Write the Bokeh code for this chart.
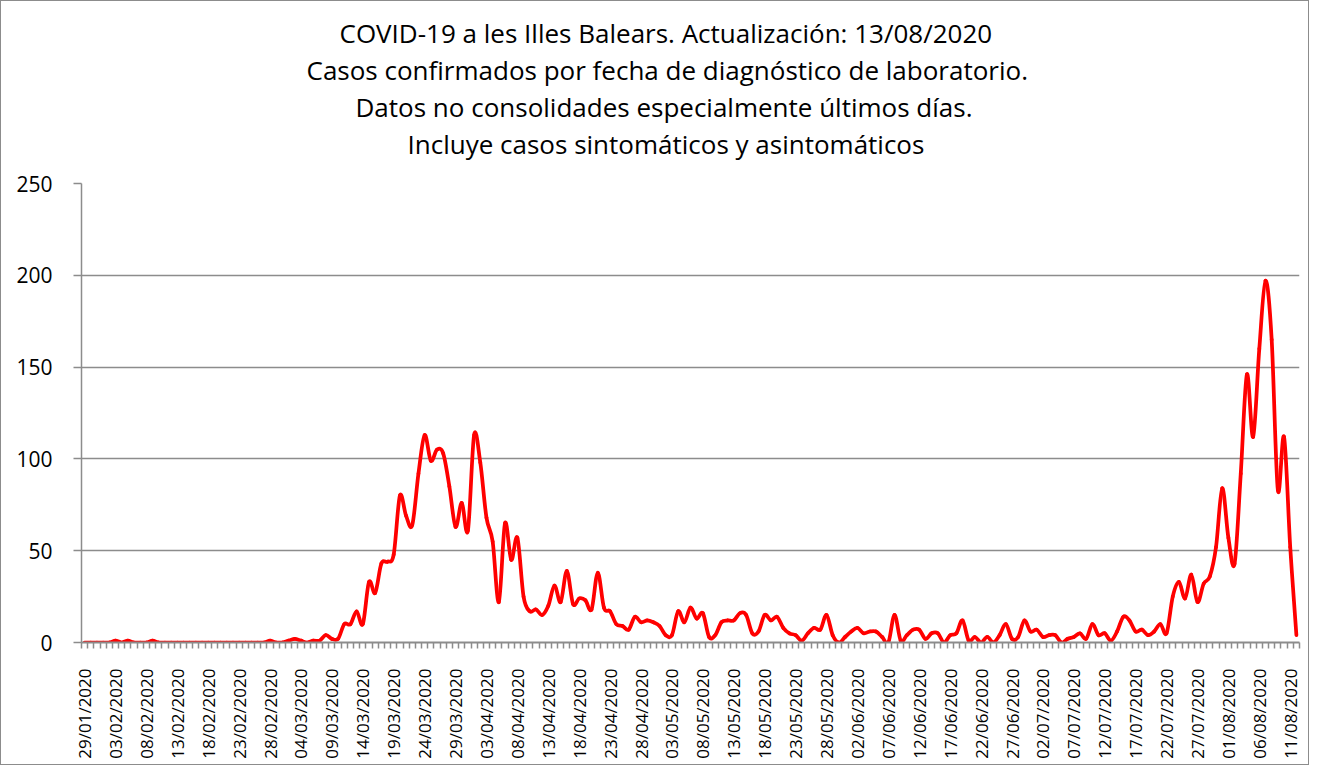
import numpy as np
import pandas as pd
from math import pi
from bokeh.plotting import figure
from bokeh.models import Range1d, FixedTicker, Title, ColumnDataSource
from bokeh.embed import file_html
from bokeh.resources import INLINE

# ---------------- data ----------------
start_date = "2020-01-29"
cases = [
    0, 0, 0, 0, 0, 1, 0, 1, 0, 0,
    0, 1, 0, 0, 0, 0, 0, 0, 0, 0,
    0, 0, 0, 0, 0, 0, 0, 0, 0, 0,
    1, 0, 0, 1, 2, 1, 0, 1, 1, 4,
    2, 2, 10, 10, 17, 10, 33, 27, 43, 44,
    48, 80, 69, 64, 92, 113, 99, 105, 103, 85,
    63, 76, 61, 113, 98, 68, 55, 22, 65, 45,
    57, 25, 17, 18, 15, 20, 31, 22, 39, 21,
    24, 23, 18, 38, 19, 17, 10, 9, 7, 14,
    11, 12, 11, 9, 4, 4, 17, 11, 19, 13,
    16, 3, 4, 11, 12, 12, 16, 15, 5, 6,
    15, 12, 14, 8, 5, 4, 1, 5, 8, 7,
    15, 4, 0, 3, 6, 8, 5, 6, 6, 3,
    0, 15, 1, 4, 7, 7, 2, 5, 5, 0,
    4, 5, 12, 1, 3, 0, 3, 0, 4, 10,
    2, 3, 12, 6, 7, 3, 4, 4, 0, 2,
    3, 5, 2, 10, 4, 5, 1, 6, 14, 12,
    6, 7, 4, 6, 10, 5, 25, 33, 24, 37,
    22, 32, 36, 52, 84, 57, 43, 92, 146, 112,
    160, 197, 165, 83, 112, 52, 4,
]
dates = pd.date_range(start_date, periods=len(cases), freq="D")
date_labels = [d.strftime("%d/%m/%Y") for d in dates]
label_step = 5
y_ticks = [0, 50, 100, 150, 200, 250]
title_lines = [
    "COVID-19 a les Illes Balears. Actualización: 13/08/2020",
    "Casos confirmados por fecha de diagnóstico de laboratorio.",
    "Datos no consolidades especialmente últimos días.",
    "Incluye casos sintomáticos y asintomáticos",
]

# ---------------- styling ----------------
FONT = "Open Sans"
GRAY = "#8c8c8c"
TITLE_SIZE = 26
TITLE_CENTER = 584          # px from the plot frame's left edge
n = len(cases)
xs = np.arange(n, dtype=float)
ys = np.array(cases, dtype=float)

# smoothed line (Catmull-Rom as cubic Bezier segments, like Excel's smoothed line)
i0 = np.clip(np.arange(n - 1) - 1, 0, n - 1)
i1 = np.arange(n - 1)
i2 = i1 + 1
i3 = np.clip(i1 + 2, 0, n - 1)
seg = ColumnDataSource(dict(
    x0=xs[i1], y0=ys[i1], x1=xs[i2], y1=ys[i2],
    cx0=xs[i1] + (xs[i2] - xs[i0]) / 6.0, cy0=ys[i1] + (ys[i2] - ys[i0]) / 6.0,
    cx1=xs[i2] - (xs[i3] - xs[i1]) / 6.0, cy1=ys[i2] - (ys[i3] - ys[i1]) / 6.0,
))

p = figure(width=1309, height=765, output_backend="svg", toolbar_location=None,
           x_range=Range1d(-0.5, n - 0.5), y_range=Range1d(0, 250),
           min_border_left=80, min_border_right=11, min_border_top=182,
           min_border_bottom=124,
           styles={"border": "1px solid #8c8c8c"})
p.background_fill_color = "white"
p.border_fill_color = "white"
p.outline_line_color = None

p.bezier(x0="x0", y0="y0", x1="x1", y1="y1", cx0="cx0", cy0="cy0",
         cx1="cx1", cy1="cy1", source=seg, line_color="#ff0000",
         line_width=3.75, line_cap="round")

# x axis
xa = p.xaxis[0]
xa.ticker = FixedTicker(ticks=list(range(0, n, label_step)),
                        minor_ticks=[i - 0.5 for i in range(n + 1)])
xa.major_label_overrides = {i: date_labels[i] for i in range(0, n, label_step)}
xa.major_label_orientation = pi / 2
xa.major_tick_line_color = None
xa.major_tick_out = 6
xa.major_tick_in = 0
xa.minor_tick_line_color = GRAY
xa.minor_tick_line_width = 1.5
xa.minor_tick_out = 6
xa.minor_tick_in = 0
xa.axis_line_color = GRAY
xa.axis_line_width = 2
xa.major_label_text_font = FONT
xa.major_label_text_font_size = "17px"
xa.major_label_text_color = "black"
xa.major_label_standoff = 20

# y axis
ya = p.yaxis[0]
ya.ticker = FixedTicker(ticks=y_ticks)
ya.major_tick_line_color = GRAY
ya.major_tick_line_width = 1.5
ya.major_tick_out = 8
ya.major_tick_in = 0
ya.minor_tick_line_color = None
ya.axis_line_color = GRAY
ya.axis_line_width = 1.5
ya.major_label_text_font = FONT
ya.major_label_text_font_size = "21px"
ya.major_label_text_color = "black"
ya.major_label_standoff = 21

p.xgrid.grid_line_color = None
p.ygrid.grid_line_color = GRAY
p.ygrid.grid_line_width = 1.5
p.ygrid.ticker = FixedTicker(ticks=y_ticks)

# spacer between the title block and the plot frame
p.add_layout(Title(text=" ", text_font_size="1px", standoff=19), "above")

# title lines (later-added titles sit further from the frame)
est_widths = [652, 718, 620, 516]   # approximate rendered widths, for centring
for line, w in reversed(list(zip(title_lines, est_widths))):
    p.add_layout(Title(text=line, align="left", offset=int(TITLE_CENTER - w / 2),
                       text_font=FONT, text_font_size=f"{TITLE_SIZE}px",
                       text_font_style="normal", text_color="black",
                       standoff=-1), "above")

open("out.html", "w").write(file_html(p, INLINE))
